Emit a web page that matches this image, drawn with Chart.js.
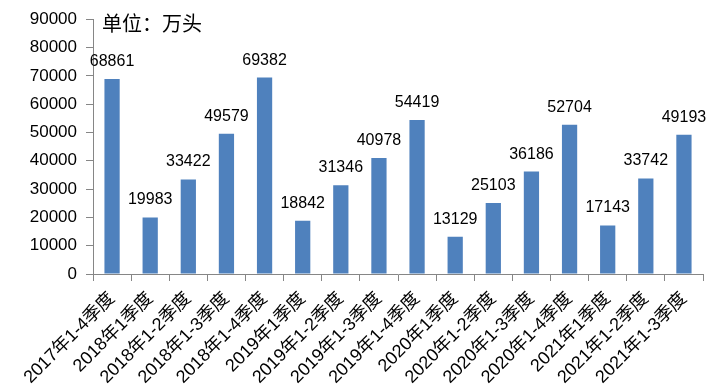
<!DOCTYPE html>
<html lang="zh">
<head>
  <meta charset="UTF-8">
  <title>生猪出栏</title>
  <script src="https://cdn.jsdelivr.net/npm/chart.js"></script>
  <style>
    body { margin: 0; background: #fff; }
    #wrap { width: 716px; height: 391px; }
  </style>
</head>
<body>
  <div id="wrap"><canvas id="grafico" width="716" height="391"></canvas></div>
  <script>
    const periodos = ["2017年1-4季度", "2018年1季度", "2018年1-2季度", "2018年1-3季度", "2018年1-4季度",
      "2019年1季度", "2019年1-2季度", "2019年1-3季度", "2019年1-4季度", "2020年1季度", "2020年1-2季度",
      "2020年1-3季度", "2020年1-4季度", "2021年1季度", "2021年1-2季度", "2021年1-3季度"];
    const valores = [68861, 19983, 33422, 49579, 69382, 18842, 31346, 40978, 54419, 13129, 25103, 36186, 52704, 17143, 33742, 49193];
    const unidad = "单位：万头";
    const fuente = "'Liberation Sans', 'Noto Sans CJK SC', sans-serif";

    const etiquetas = {
      id: "etiquetas",
      afterDatasetsDraw(chart) {
        const ctx = chart.ctx;
        ctx.save();
        ctx.fillStyle = "#000";
        ctx.font = "16px " + fuente;
        ctx.textAlign = "center";
        ctx.textBaseline = "alphabetic";
        chart.getDatasetMeta(0).data.forEach((bar, i) => {
          ctx.fillText(valores[i], bar.x, bar.y - 13);
        });
        ctx.font = "20px 'Noto Sans CJK SC', sans-serif";
        ctx.textAlign = "left";
        ctx.textBaseline = "middle";
        ctx.fillText(unidad, chart.chartArea.left + 9, chart.chartArea.top + 4);
        ctx.restore();
      }
    };

    new Chart(document.getElementById("grafico"), {
      type: "bar",
      data: {
        labels: periodos,
        datasets: [{ data: valores, backgroundColor: "#4f81bd", barPercentage: 0.4, categoryPercentage: 1 }]
      },
      options: {
        responsive: false,
        animation: false,
        layout: { padding: { top: 10, right: 13, left: 0, bottom: 0 } },
        plugins: { legend: { display: false }, tooltip: { enabled: false } },
        scales: {
          x: {
            grid: { display: true, drawOnChartArea: false, offset: true, color: "#868686", tickLength: 7 },
            border: { color: "#868686" },
            ticks: { color: "#000", font: { size: 18, family: fuente }, maxRotation: 45, minRotation: 45, autoSkip: false, padding: 7 },
            afterFit(s) { s.height = 117; }
          },
          y: {
            min: 0, max: 90000,
            grid: { display: true, drawOnChartArea: false, color: "#868686", tickLength: 7 },
            border: { color: "#868686" },
            ticks: { stepSize: 10000, color: "#000", font: { size: 17, family: fuente }, padding: 9, callback: v => String(v) },
            afterFit(s) { s.width = 93; }
          }
        }
      },
      plugins: [etiquetas]
    });
  </script>
</body>
</html>
